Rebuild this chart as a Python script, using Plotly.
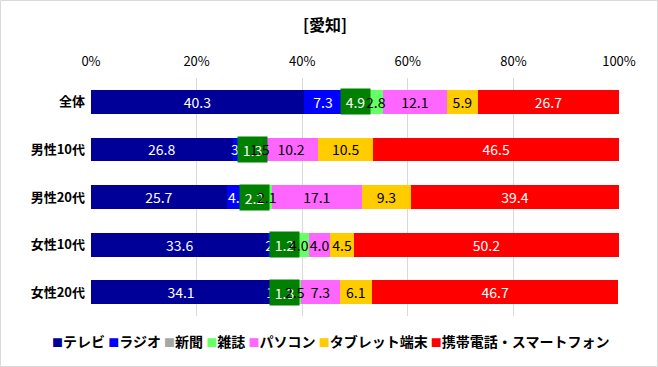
import plotly.graph_objects as go

categories = ["全体", "男性10代", "男性20代", "女性10代", "女性20代"]
series_names = ["テレビ", "ラジオ", "新聞", "雑誌", "パソコン", "タブレット端末", "携帯電話・スマートフォン"]
tv = [40.3, 26.8, 25.7, 33.6, 34.1]
radio = [7.3, 3.2, 4.2, 2.5, 1.9]
newspaper = [4.9, 1.3, 2.2, 1.2, 1.3]
magazine = [2.8, 1.5, 2.1, 4.0, 2.5]
pc = [12.1, 10.2, 17.1, 4.0, 7.3]
tablet = [5.9, 10.5, 9.3, 4.5, 6.1]
mobile = [26.7, 46.5, 39.4, 50.2, 46.7]
x_ticks = [0, 20, 40, 60, 80, 100]
x_tick_labels = ["0%", "20%", "40%", "60%", "80%", "100%"]
title_text = "[愛知]"

series = [tv, radio, newspaper, magazine, pc, tablet, mobile]
colors = ["#000099", "#0000FF", "#A6A6A6", "#66FF66", "#FF66FF", "#FFCC00", "#FF0000"]
text_colors = ["white", "white", "white", "black", "black", "black", "white"]
news_box = "#008000"

FONT = "Noto Sans CJK JP"
W, H = 658, 367
ML, MR, MT, MB = 91, 39, 78, 51
PW, PH = W - ML - MR, H - MT - MB

fig = go.Figure()
for i, (name, vals) in enumerate(zip(series_names, series)):
    show_text = i not in (2, 3)
    fig.add_trace(go.Bar(
        y=categories, x=vals, name=name, orientation="h",
        marker=dict(color=colors[i], line=dict(width=0)),
        texttemplate="%{x:.1f}" if show_text else None,
        textposition="inside" if show_text else "none",
        insidetextanchor="middle",
        textangle=0,
        textfont=dict(family=FONT, size=14, color=text_colors[i]),
        showlegend=False,
        hoverinfo="skip",
    ))

annotations = []
for j, cat in enumerate(categories):
    cx = tv[j] + radio[j] + newspaper[j] / 2
    annotations.append(dict(
        x=cx, y=cat, xref="x", yref="y", text=f"{newspaper[j]:.1f}",
        showarrow=False, bgcolor=news_box, width=27, height=23, borderpad=1,
        font=dict(family=FONT, size=14, color="white"),
    ))
for j, cat in enumerate(categories):
    cx = tv[j] + radio[j] + newspaper[j] + magazine[j] / 2
    annotations.append(dict(
        x=cx, y=cat, xref="x", yref="y", text=f"{magazine[j]:.1f}",
        showarrow=False,
        font=dict(family=FONT, size=14, color="black"),
    ))

parts = []
for name, c in zip(series_names, colors):
    parts.append(f"<span style='color:{c};font-size:11px'>■</span>{name}")
legend_text = " ".join(parts)
annotations.append(dict(
    x=(330 - ML) / PW, y=(MT + PH - 341) / PH, xref="paper", yref="paper",
    text=f"<b>{legend_text}</b>", showarrow=False, xanchor="center", yanchor="middle",
    font=dict(family=FONT, size=14, color="black"),
))

fig.update_layout(
    width=W, height=H,
    margin=dict(l=ML, r=MR, t=MT, b=MB, pad=0),
    barmode="stack", bargap=0.5,
    uniformtext=dict(minsize=14, mode="show"),
    plot_bgcolor="white", paper_bgcolor="white",
    title=dict(text=f"<b>{title_text}</b>", x=325 / W, xref="container", xanchor="center",
               y=1 - 25 / H, yref="container", yanchor="middle",
               font=dict(family=FONT, size=16, color="black")),
    xaxis=dict(range=[0, 100], side="top", tickmode="array", tickvals=x_ticks,
               ticktext=x_tick_labels,
               showgrid=True, gridcolor="#D9D9D9", gridwidth=1, zeroline=False,
               showline=False, ticks="", tickfont=dict(family=FONT, size=13, color="black"),
               ticklabelstandoff=8),
    yaxis=dict(autorange="reversed", showgrid=False, showline=False, ticks="",
               tickfont=dict(family=FONT, size=13, color="black"), ticklabelstandoff=5),
    annotations=annotations,
    shapes=[dict(type="rect", xref="paper", yref="paper",
                 x0=(0.5 - ML) / PW, x1=(W - 0.5 - ML) / PW,
                 y0=(MT + PH - (H - 0.5)) / PH, y1=(MT + PH - 0.5) / PH,
                 line=dict(color="#D9D9D9", width=1), layer="above")],
    showlegend=False,
)
fig.update_yaxes(tickprefix="<b>", ticksuffix="</b>")

fig.write_html("out.html", config={"displayModeBar": False},
               post_script="document.body.style.margin='0';")
